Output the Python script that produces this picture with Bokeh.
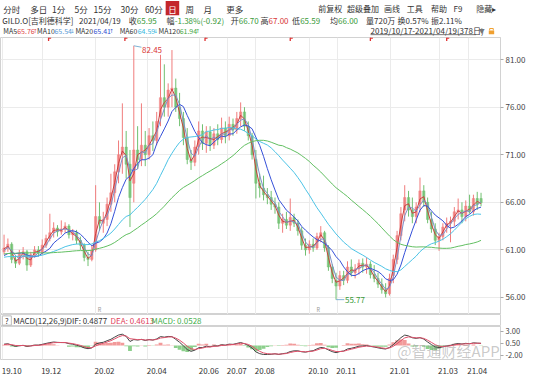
import numpy as np
import pandas as pd
from bokeh.plotting import figure
from bokeh.layouts import column
from bokeh.models import Range1d, FixedTicker, PrintfTickFormatter, ColumnDataSource, Label
from bokeh.core.properties import value
from bokeh.embed import file_html
from bokeh.resources import INLINE

FONT_NAME = "Noto Sans CJK SC"
FONT = value(FONT_NAME)

# ---------------- data (3 trading days per candle, 2019/10/17 - 2021/04/19) ----------------
opens = [60.8, 61.2, 61.6, 60.0, 59.6, 60.6, 60.8, 59.4, 60.5, 61.0,
         60.7, 61.5, 62.2, 62.8, 63.3, 62.9, 63.2, 63.5, 62.6, 62.8,
         62.0, 61.5, 60.2, 60.0, 61.0, 64.5, 63.8, 64.2, 65.8, 67.0,
         69.2, 71.0, 71.8, 70.0, 68.0, 71.5, 70.5, 72.0, 71.0, 73.0,
         72.5, 75.0, 77.0, 76.0, 77.8, 78.0, 76.0, 74.8, 72.8, 70.5,
         70.2, 71.8, 73.5, 72.2, 73.4, 72.0, 73.2, 72.6, 73.8, 73.0,
         74.2, 73.6, 74.8, 75.5, 74.0, 73.0, 70.5, 68.0, 67.5, 66.8,
         66.5, 65.8, 65.5, 63.8, 64.2, 63.6, 64.4, 63.8, 63.0, 61.5,
         61.0, 61.6, 61.2, 62.4, 62.8, 61.2, 59.2, 57.8, 57.2, 58.3,
         57.8, 59.2, 58.6, 59.0, 59.6, 59.2, 59.5, 58.4, 58.0, 57.4,
         56.8, 56.4, 58.3, 60.0, 62.5, 65.2, 66.5, 65.2, 64.5, 65.8,
         67.2, 66.0, 64.2, 63.2, 62.0, 62.4, 63.4, 63.8, 64.0, 65.0,
         65.2, 64.5, 65.6, 65.0, 66.4, 66.4]
highs = [62.6, 62.2, 61.8, 60.4, 61.0, 61.3, 61.0, 60.8, 61.4, 61.4,
         62.1, 62.6, 64.8, 63.9, 63.6, 64.1, 63.9, 63.7, 63.2, 63.1,
         62.4, 61.7, 60.8, 61.4, 67.8, 66.0, 65.0, 66.5, 69.0, 70.0,
         72.5, 76.4, 73.5, 71.5, 82.45, 74.0, 76.4, 73.5, 73.8, 74.5,
         75.5, 81.5, 80.5, 78.5, 82.0, 79.0, 77.5, 75.5, 73.8, 71.5,
         72.5, 74.5, 74.2, 74.0, 74.0, 73.8, 74.2, 74.9, 74.5, 75.0,
         74.8, 75.5, 76.5, 76.0, 74.5, 73.3, 71.5, 69.0, 68.8, 67.5,
         67.2, 66.5, 66.0, 64.8, 65.0, 66.4, 64.8, 64.2, 63.4, 62.2,
         62.0, 62.2, 62.8, 63.5, 63.0, 61.5, 59.5, 58.6, 58.8, 58.8,
         59.8, 60.0, 59.5, 60.0, 60.1, 60.2, 59.8, 59.4, 58.6, 58.0,
         57.5, 58.5, 60.5, 63.0, 65.5, 67.8, 67.2, 66.5, 66.0, 68.6,
         67.8, 66.5, 65.0, 63.8, 62.8, 63.8, 64.4, 64.5, 65.5, 66.4,
         66.0, 66.2, 66.8, 66.8, 67.1, 67.0]
lows = [60.5, 60.8, 59.6, 59.1, 59.4, 60.0, 58.8, 59.2, 60.2, 60.3,
        60.5, 61.2, 61.9, 62.3, 62.4, 62.6, 62.8, 62.2, 62.0, 61.6,
        61.0, 59.8, 59.3, 59.8, 60.8, 63.0, 62.8, 63.5, 65.0, 66.0,
        68.0, 69.0, 68.5, 63.4, 66.0, 69.5, 69.8, 69.8, 70.5, 71.4,
        72.0, 74.0, 75.0, 75.0, 76.0, 75.5, 74.0, 72.0, 70.0, 69.4,
        69.8, 71.0, 71.5, 71.2, 71.4, 71.6, 72.0, 72.2, 72.2, 72.5,
        73.0, 73.2, 74.0, 73.5, 72.5, 70.5, 66.4, 66.5, 66.2, 65.8,
        65.2, 64.8, 63.2, 62.8, 63.2, 63.0, 63.4, 62.5, 61.0, 60.4,
        60.6, 60.8, 61.0, 61.8, 60.8, 58.8, 57.5, 55.77, 56.8, 57.3,
        57.5, 58.2, 58.0, 58.4, 58.6, 58.5, 58.0, 57.6, 57.0, 56.4,
        56.0, 56.2, 57.5, 59.5, 62.0, 64.0, 64.5, 63.8, 63.8, 65.0,
        65.5, 63.8, 62.8, 61.5, 60.9, 62.0, 62.8, 61.8, 63.5, 64.2,
        63.8, 64.0, 64.8, 64.6, 65.2, 65.59]
closes = [61.2, 61.6, 60.0, 59.6, 60.6, 60.8, 59.4, 60.5, 61.0, 60.7,
          61.5, 62.2, 62.8, 63.3, 62.9, 63.2, 63.5, 62.6, 62.8, 62.0,
          61.5, 60.2, 60.0, 60.9, 64.5, 63.8, 64.2, 65.8, 67.0, 69.2,
          71.0, 71.8, 70.0, 66.5, 71.5, 70.5, 72.0, 71.0, 73.0, 72.5,
          74.5, 77.0, 76.0, 77.8, 78.0, 76.0, 74.8, 72.8, 70.5, 70.2,
          71.8, 73.5, 72.2, 73.4, 72.0, 73.2, 72.6, 73.8, 73.0, 74.2,
          73.6, 74.8, 75.5, 74.0, 73.0, 71.0, 68.0, 67.5, 66.8, 66.5,
          65.8, 65.5, 63.8, 64.2, 63.6, 64.4, 63.8, 63.0, 61.5, 61.0,
          61.6, 61.2, 62.4, 62.8, 61.2, 59.2, 58.0, 57.2, 58.3, 57.8,
          59.2, 58.6, 59.0, 59.6, 59.2, 59.5, 58.4, 58.0, 57.4, 56.8,
          56.4, 58.0, 60.0, 62.5, 64.8, 66.5, 65.2, 64.5, 65.5, 67.2,
          66.0, 64.2, 63.2, 62.0, 62.4, 63.4, 63.8, 64.0, 65.0, 65.2,
          64.5, 65.6, 65.0, 66.4, 65.8, 65.95]
# closes before the window (needed by the moving averages / MACD)
prev_closes = [59.8, 59.3, 59.0, 59.4, 59.8, 60.2, 60.0, 60.6, 61.2, 61.8,
               62.3, 62.6, 62.2, 61.8, 62.4, 62.0, 61.4, 61.0, 60.6, 60.8,
               60.4, 59.8, 59.6, 59.9, 60.2, 60.0, 60.5, 60.7, 60.3, 60.0,
               59.8, 60.2, 60.4, 60.1, 59.7, 59.9, 60.3, 60.6, 61.0]

tick_days = [0, 31, 73, 114, 155, 177, 199, 241, 263, 305, 343, 366]
tick_labels = ["19.10", "19.12", "20.02", "20.04", "20.06", "20.07",
               "20.08", "20.10", "20.11", "21.01", "21.03", "21.04"]
price_ticks = [56, 61, 66, 71, 76, 81]
macd_ticks = [3.0, 0.5, -2.0]
dividend_days = [36, 96, 159, 226, 289, 349]
report_days = [76, 248]

ma_names = ["MA5", "MA10", "MA20", "MA60", "MA120"]
ma_bars = [2, 3, 7, 20, 40]
ma_colors = ["#c94040", "#7d8fc8", "#3550d8", "#4cc3e6", "#62bf62"]
ma_last_text = ["65.76", "65.54", "65.41", "64.59", "61.94"]
ma_last_dir = ["↑", "↓", "↑", "↓", "↑"]
ma_text_colors = ["#e04848", "#5b9bd5", "#2f4fd0", "#36b8e0", "#43a843"]

DAYS_PER_BAR = 3
bar_x = [DAYS_PER_BAR * i + 1 for i in range(len(closes))]

# ---------------- derived indicators ----------------
allc = pd.Series(prev_closes + closes, dtype=float)
n0 = len(prev_closes)
ma_values = [allc.rolling(n).mean().to_numpy()[n0:] for n in ma_bars]
ema_f = allc.ewm(span=12 / DAYS_PER_BAR, adjust=False).mean()
ema_s = allc.ewm(span=26 / DAYS_PER_BAR, adjust=False).mean()
dif = ema_f - ema_s
dea = dif.ewm(span=9 / DAYS_PER_BAR, adjust=False).mean()
hist = 2 * (dif - dea)
dif_v = dif.to_numpy()[n0:]
dea_v = dea.to_numpy()[n0:]
hist_v = hist.to_numpy()[n0:]

# ---------------- layout ----------------
W = 538
H_HEAD, H_MAIN, H_LEG, H_MACD = 37, 277, 12, 50
RIGHT = 38
GRID = "#ebebeb"
FRAME = "#d2d2d2"
RED = "#d93636"
GREEN = "#3a9a3a"
DARK = "#333333"

xr = Range1d(-1.8, 391.3)


def bare(fig):
    fig.grid.visible = False
    fig.outline_line_color = None


def add_texts(fig, xs, ys, texts, colors, size, align="left", baseline="middle", font=FONT):
    src = ColumnDataSource(dict(x=xs, y=ys, text=texts, color=colors))
    fig.text(x="x", y="y", text="text", text_color="color", source=src,
             text_font=font, text_font_size=size, text_align=align,
             text_baseline=baseline)


# ---- header ----
h = figure(width=W, height=H_HEAD, x_range=Range1d(0, 554), y_range=Range1d(39, 0),
           output_backend="svg", toolbar_location=None,
           x_axis_location=None, y_axis_location=None,
           min_border_left=0, min_border_right=0, min_border_top=0, min_border_bottom=0)
bare(h)
h.rect(x=[190.5], y=[8], width=15, height=15, fill_color="#c4262b", line_color=None)
tabs = ["分时", "多日", "1分", "5分", "15分", "30分", "60分", "周", "月", "更多"]
tab_x = [3, 33, 57, 82, 103, 133, 160, 205, 225, 250]
add_texts(h, tab_x, [8.5] * len(tabs), tabs, [DARK] * len(tabs), "8.5px")
add_texts(h, [190.5], [8.5], ["日"], ["white"], "8.5px", align="center")
tools = ["前复权", "超级叠加", "画线", "工具", "帮助", "F9", "隐藏▸"]
tool_x = [352, 384, 425, 450, 477, 502, 527]
add_texts(h, tool_x, [8.5] * len(tools), tools, [DARK] * len(tools), "8px")

row2 = [(2, "GILD.O[吉利德科学]", DARK), (87, "2021/04/19", DARK),
        (142, "收", DARK), (151, "65.95", GREEN),
        (184, "幅", DARK), (193, "-1.38%(-0.92)", GREEN),
        (255, "开", DARK), (264, "66.70", GREEN),
        (288, "高", DARK), (297, "67.00", RED),
        (323, "低", DARK), (332, "65.59", GREEN),
        (365, "均", DARK), (374, "66.00", GREEN),
        (405, "量720万", DARK), (440, "换0.57%", DARK), (477, "振2.11%", DARK)]
add_texts(h, [r[0] for r in row2], [21.5] * len(row2), [r[1] for r in row2],
          [r[2] for r in row2], "8px")

ma_lab_x = [3, 40.5, 83, 132, 175]
ma_val_x = [18.5, 59.8, 103, 152, 198.5]
add_texts(h, ma_lab_x, [32] * 5, ma_names, [DARK] * 5, "7px")
add_texts(h, ma_val_x, [32] * 5, ma_last_text, ma_text_colors, "7px")
add_texts(h, [v + 17.6 for v in ma_val_x], [32] * 5, ma_last_dir, ma_text_colors, "5.5px",
          font=value("DejaVu Sans"))
add_texts(h, [410], [32], ["2019/10/17-2021/04/19(378日)"], [DARK], "8px")
h.segment(x0=[410], y0=[36], x1=[527], y1=[36], color="#555555", line_width=0.8)
add_texts(h, [530], [32], ["▼"], ["#777777"], "6px")
h.rect(x=[544], y=[33.5], width=6, height=4, fill_color="#f0a030", line_color=None)
h.segment(x0=[542, 546], y0=[31.5, 31.5], x1=[542, 546], y1=[29.5, 29.5], color="#f0a030", line_width=1)
h.segment(x0=[542], y0=[29.5], x1=[546], y1=[29.5], color="#f0a030", line_width=1)

# ---- main price chart ----
p = figure(width=W, height=H_MAIN, x_range=xr, y_range=Range1d(54.21, 83.32),
           output_backend="svg", toolbar_location=None,
           x_axis_location=None, y_axis_location="right",
           min_border_left=0, min_border_right=RIGHT, min_border_top=0, min_border_bottom=0)
p.outline_line_color = FRAME
p.xgrid.ticker = FixedTicker(ticks=tick_days)
p.grid.grid_line_color = GRID
p.yaxis.ticker = FixedTicker(ticks=price_ticks)
p.yaxis.formatter = PrintfTickFormatter(format="%.2f")
p.yaxis.major_label_text_font = FONT_NAME
p.yaxis.major_label_text_font_size = "8px"
p.yaxis.major_label_text_color = "#444444"
p.yaxis.axis_line_color = FRAME
p.yaxis.major_tick_line_color = "#aaaaaa"
p.yaxis.major_tick_in = 0
p.yaxis.major_tick_out = 3
p.yaxis.minor_tick_line_color = None
p.yaxis.major_label_standoff = 2

up = [c >= o for o, c in zip(opens, closes)]
cc = ["#f07c7c" if u else "#70c070" for u in up]
csrc = ColumnDataSource(dict(x=bar_x, o=opens, h=highs, l=lows, c=closes,
                             top=[max(o, c) for o, c in zip(opens, closes)],
                             bot=[min(o, c) for o, c in zip(opens, closes)],
                             color=cc))
p.segment(x0="x", y0="h", x1="x", y1="l", color="color", line_width=1, source=csrc)
p.vbar(x="x", width=1.8, top="top", bottom="bot", fill_color="color",
       line_color="color", fill_alpha=0.8, line_width=0.5, source=csrc)

for vals, col in zip(ma_values, ma_colors):
    p.line(bar_x, vals, line_color=col, line_width=1)

imax = int(np.argmax(highs))
imin = int(np.argmin(lows))
p.segment(x0=[bar_x[imax]], y0=[highs[imax]], x1=[bar_x[imax] + 6], y1=[highs[imax] - 0.15],
          color="#7fb3d5", line_width=1)
add_texts(p, [bar_x[imax] + 6.5], [highs[imax] - 0.4], [f"{highs[imax]:.2f}"], [RED], "8px")
p.segment(x0=[bar_x[imin]], y0=[lows[imin]], x1=[bar_x[imin] + 6.5], y1=[lows[imin]],
          color="#7fb3d5", line_width=1)
add_texts(p, [bar_x[imin] + 7], [lows[imin]], [f"{lows[imin]:.2f}"], [GREEN], "8px")

p.segment(x0=dividend_days, y0=[83.32] * 6, x1=dividend_days, y1=[82.95] * 6,
          color="#e03030", line_width=1.3)
p.segment(x0=dividend_days, y0=[83.25] * 6, x1=[d + 2 for d in dividend_days], y1=[83.25] * 6,
          color="#e03030", line_width=1.3)
add_texts(p, report_days, [54.72] * len(report_days), ["R"] * len(report_days),
          ["#999999"] * len(report_days), "5.5px", align="center")

# ---- MACD legend row ----
lg = figure(width=W, height=H_LEG, x_range=Range1d(0, 554), y_range=Range1d(341, 328),
            output_backend="svg", toolbar_location=None,
            x_axis_location=None, y_axis_location=None,
            min_border_left=0, min_border_right=0, min_border_top=0, min_border_bottom=0)
lg.grid.visible = False
lg.outline_line_color = FRAME
lg.rect(x=[7], y=[334.5], width=10, height=10, fill_color=None, line_color="#bbbbbb")
add_texts(lg, [7], [334.5], ["?"], [DARK], "7.5px", align="center")
leg_items = [(14, "MACD(12,26,9)", DARK), (73, "DIF: 0.4877", DARK),
             (122, "DEA: 0.4613", "#e0405a"), (167, "MACD: 0.0528", "#3fae4a")]
add_texts(lg, [r[0] for r in leg_items], [334.5] * 4, [r[1] for r in leg_items],
          [r[2] for r in leg_items], "8px")

# ---- MACD panel ----
m = figure(width=W, height=H_MACD, x_range=xr, y_range=Range1d(-2.9, 3.95),
           output_backend="svg", toolbar_location=None, y_axis_location="right",
           min_border_left=0, min_border_right=RIGHT, min_border_top=0, min_border_bottom=14)
m.outline_line_color = FRAME
m.xgrid.ticker = FixedTicker(ticks=tick_days)
m.xgrid.grid_line_color = GRID
m.ygrid.visible = False
lab_ticks = [d + 7 for d in tick_days]
m.xaxis.ticker = FixedTicker(ticks=lab_ticks)
m.xaxis.major_label_overrides = {t: s for t, s in zip(lab_ticks, tick_labels)}
m.xaxis.axis_line_color = None
m.xaxis.major_tick_line_color = None
m.xaxis.minor_tick_line_color = None
m.xaxis.major_label_standoff = 2
m.xaxis.major_label_text_font = FONT_NAME
m.xaxis.major_label_text_font_size = "8px"
m.xaxis.major_label_text_color = DARK
m.yaxis.ticker = FixedTicker(ticks=macd_ticks)
m.yaxis.formatter = PrintfTickFormatter(format="%.2f")
m.yaxis.major_label_text_font = FONT_NAME
m.yaxis.major_label_text_font_size = "7.5px"
m.yaxis.major_label_text_color = "#444444"
m.yaxis.axis_line_color = FRAME
m.yaxis.major_tick_line_color = "#aaaaaa"
m.yaxis.major_tick_in = 0
m.yaxis.major_tick_out = 3
m.yaxis.minor_tick_line_color = None
m.yaxis.major_label_standoff = 2

hcol = ["#f29a9a" if v >= 0 else "#8ccf8c" for v in hist_v]
m.vbar(x=bar_x, width=3, top=hist_v, bottom=0, fill_color=hcol, line_color=None)
m.line(bar_x, dif_v, line_color="#444444", line_width=1)
m.line(bar_x, dea_v, line_color="#e0506a", line_width=1)
m.add_layout(Label(x=448, y=9, x_units="screen", y_units="screen", text="@智通财经APP",
                   text_font=FONT_NAME, text_font_size="15px", text_color="#8a8a8a",
                   text_alpha=0.45, text_align="center", text_baseline="middle"))

layout = column(h, p, lg, m)
open("out.html", "w").write(file_html(layout, INLINE))
